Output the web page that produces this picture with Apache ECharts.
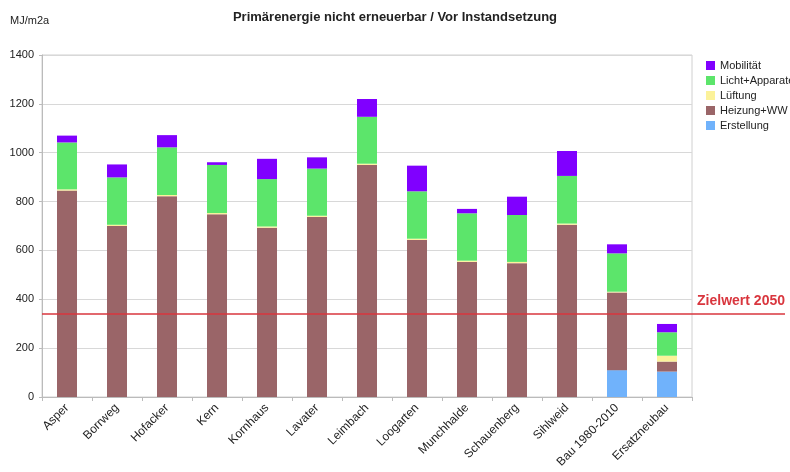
<!DOCTYPE html>
<html><head><meta charset="utf-8">
<script src="https://cdn.jsdelivr.net/npm/echarts@6/dist/echarts.min.js"></script>
<style>html,body{margin:0;padding:0;background:#fff}#c{width:790px;height:472px}</style>
</head><body><div id="c"></div>
<script>
const categories = ['Asper','Borrweg','Hofacker','Kern','Kornhaus','Lavater','Leimbach','Loogarten','Munchhalde','Schauenberg','Sihlweid','Bau 1980-2010','Ersatzneubau'];
const erstellung = [0,0,0,0,0,0,0,0,0,0,0,110,104];
const heizung = [845,700,822,748,693,737,950,643,553,548,705,318,41];
const lueftung = [5,5,5,5,5,5,5,5,5,5,5,3,24];
const licht = [192,194,195,197,194,193,192,194,194,192,195,157,96];
const mobilitaet = [28,53,50,11,83,46,73,105,18,75,102,37,34];
const yTicks = [0,200,400,600,800,1000,1200,1400];
const zielwert = 340;

const font = 'Liberation Sans, Arial, sans-serif';
const chart = echarts.init(document.getElementById('c'));
function bar(name, data, color){
  return {name, type:'bar', stack:'s', data, barWidth:20, itemStyle:{color}, xAxisIndex:0, yAxisIndex:0};
}
chart.setOption({
  animation:false,
  textStyle:{fontFamily:font},
  title:{text:'Primärenergie nicht erneuerbar / Vor Instandsetzung', left:'center', top:6,
    textStyle:{fontSize:13, fontWeight:'bold', color:'#222', fontFamily:font}},
  graphic:[{type:'text', left:10, top:15, style:{text:'MJ/m2a', font:'11px '+font, fill:'#222'}}],
  legend:{orient:'vertical', left:701, top:55, itemWidth:9, itemHeight:9, itemGap:4,
    icon:'rect', textStyle:{fontSize:11, color:'#222', fontFamily:font},
    data:['Mobilität','Licht+Apparate','Lüftung','Heizung+WW','Erstellung']},
  grid:[{left:42, top:55, width:650, bottom:75, show:true, borderColor:'#d0d0d0', borderWidth:1},
        {left:42, top:55, right:5, bottom:75}],
  xAxis:[{type:'category', data:categories, gridIndex:0,
    axisLine:{lineStyle:{color:'#bbb'}}, axisTick:{show:true, length:4, lineStyle:{color:'#bbb'}},
    axisLabel:{rotate:45, interval:0, fontSize:12, color:'#222', margin:9}},
    {type:'value', gridIndex:1, min:0, max:1, show:false}],
  yAxis:[{type:'value', gridIndex:0, min:yTicks[0], max:yTicks[yTicks.length-1], interval:200,
    axisLine:{show:true, lineStyle:{color:'#bbb'}}, axisTick:{show:true, length:3, lineStyle:{color:'#bbb'}},
    splitLine:{lineStyle:{color:'#d8d8d8'}},
    axisLabel:{fontSize:11, color:'#222', margin:8, formatter:v=>String(v)}},
    {type:'value', gridIndex:1, min:yTicks[0], max:yTicks[yTicks.length-1], show:false}],
  series:[
    bar('Erstellung', erstellung, '#70b2fb'),
    bar('Heizung+WW', heizung, '#9a6568'),
    bar('Lüftung', lueftung, '#fcf29a'),
    bar('Licht+Apparate', licht, '#5ce56b'),
    bar('Mobilität', mobilitaet, '#8000ff'),
    {type:'line', xAxisIndex:1, yAxisIndex:1, data:[], silent:true,
      markLine:{symbol:'none', silent:true, data:[{yAxis:zielwert}],
        lineStyle:{color:'#d9363e', type:'solid', width:1.5},
        label:{show:true, position:'insideEndTop', formatter:'Zielwert 2050', color:'#d9363e',
          fontWeight:'bold', fontSize:14, fontFamily:font, distance:[0,6]}}}
  ]
});
</script></body></html>
